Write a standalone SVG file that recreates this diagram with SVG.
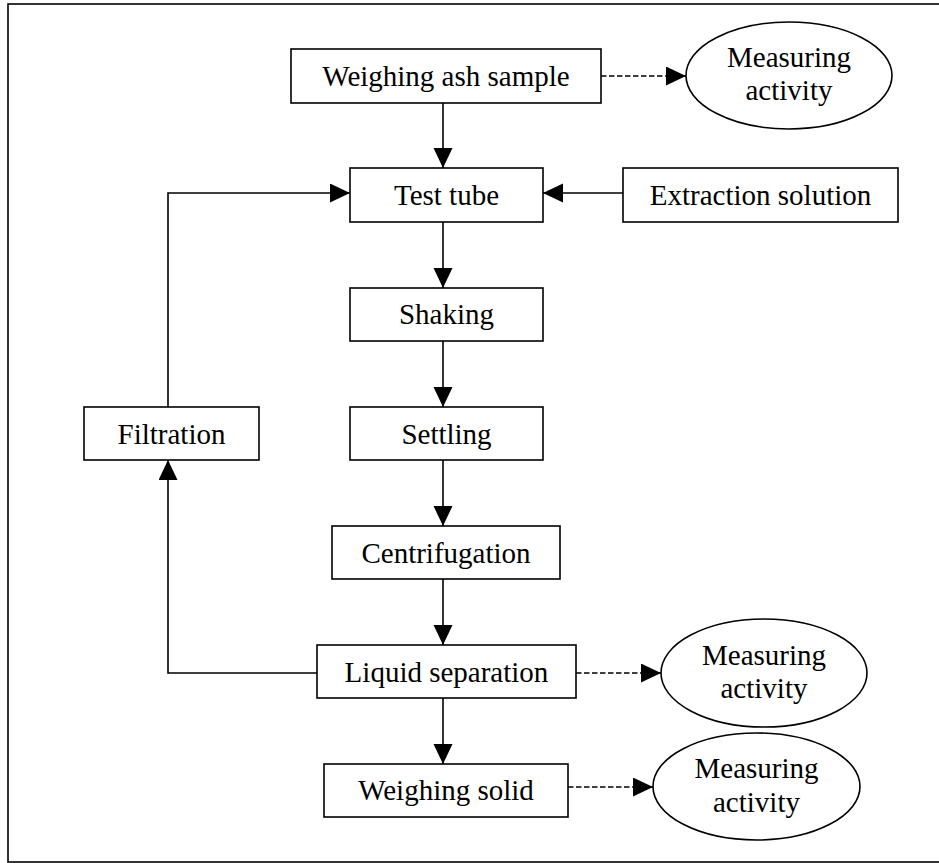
<svg xmlns="http://www.w3.org/2000/svg" width="939" height="863" viewBox="0 0 939 863">
<defs>
<style>
.box{fill:#fff;stroke:#000;stroke-width:1.6}
.ell{fill:#fff;stroke:#000;stroke-width:1.6}
.t{font-family:"Liberation Serif","Times New Roman",serif;font-size:29px;fill:#000;text-anchor:middle}
.c{fill:none;stroke:#000;stroke-width:1.6}
.d{stroke-dasharray:5.5,2.5}
</style>
<marker id="ah" markerUnits="userSpaceOnUse" markerWidth="21" markerHeight="20" refX="20" refY="9.5" orient="auto" viewBox="0 0 21 20">
<path d="M0,0 L20,9.5 L0,19 z" fill="#000"/>
</marker>
</defs>
<rect width="939" height="863" fill="#fff"/>
<rect x="8" y="4" width="960" height="858" fill="none" stroke="#000" stroke-width="1.6"/>
<g id="connectors">
<path class="c" d="M443,103 V168" marker-end="url(#ah)"/>
<path class="c" d="M623,193 H543" marker-end="url(#ah)"/>
<path class="c d" d="M601,76 H686" marker-end="url(#ah)"/>
<path class="c" d="M443,222 V288" marker-end="url(#ah)"/>
<path class="c" d="M443,341 V407" marker-end="url(#ah)"/>
<path class="c" d="M443,460 V526" marker-end="url(#ah)"/>
<path class="c" d="M443,579 V645" marker-end="url(#ah)"/>
<path class="c" d="M443,698 V764" marker-end="url(#ah)"/>
<path class="c d" d="M576,673 H661" marker-end="url(#ah)"/>
<path class="c d" d="M568,787 H653" marker-end="url(#ah)"/>
<path class="c" d="M317,673 H168 V460" marker-end="url(#ah)"/>
<path class="c" d="M168,407 V193 H350" marker-end="url(#ah)"/>
</g>
<g id="weighing-ash">
<rect class="box" x="291" y="49" width="310" height="54"/>
<text class="t" x="446" y="86">Weighing ash sample</text>
</g>
<g id="measuring-1">
<ellipse class="ell" cx="789" cy="75.5" rx="103" ry="53.5"/>
<text class="t" x="789" y="67">Measuring</text>
<text class="t" x="789" y="100">activity</text>
</g>
<g id="test-tube">
<rect class="box" x="350" y="168" width="193" height="54"/>
<text class="t" x="446.5" y="205">Test tube</text>
</g>
<g id="extraction">
<rect class="box" x="623" y="168" width="275" height="54"/>
<text class="t" x="760.5" y="205">Extraction solution</text>
</g>
<g id="shaking">
<rect class="box" x="350" y="288" width="193" height="53"/>
<text class="t" x="446.5" y="324">Shaking</text>
</g>
<g id="settling">
<rect class="box" x="350" y="407" width="193" height="53"/>
<text class="t" x="446.5" y="444">Settling</text>
</g>
<g id="filtration">
<rect class="box" x="84" y="407" width="175" height="53"/>
<text class="t" x="171.5" y="444">Filtration</text>
</g>
<g id="centrifugation">
<rect class="box" x="332" y="526" width="228" height="53"/>
<text class="t" x="446" y="563">Centrifugation</text>
</g>
<g id="liquid-separation">
<rect class="box" x="317" y="645" width="259" height="53"/>
<text class="t" x="446.5" y="682">Liquid separation</text>
</g>
<g id="measuring-2">
<ellipse class="ell" cx="764" cy="673" rx="103" ry="54"/>
<text class="t" x="764" y="665">Measuring</text>
<text class="t" x="764" y="698">activity</text>
</g>
<g id="weighing-solid">
<rect class="box" x="324" y="764" width="244" height="53"/>
<text class="t" x="446" y="800">Weighing solid</text>
</g>
<g id="measuring-3">
<ellipse class="ell" cx="756.5" cy="786.5" rx="103.5" ry="53.5"/>
<text class="t" x="756.5" y="778">Measuring</text>
<text class="t" x="756.5" y="812">activity</text>
</g>
</svg>
